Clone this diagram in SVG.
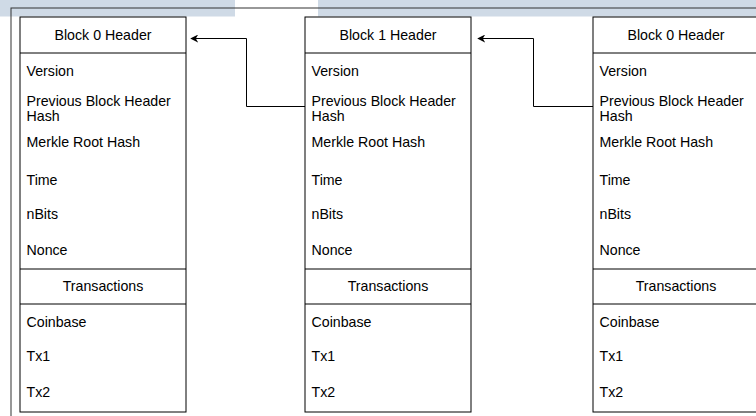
<svg xmlns="http://www.w3.org/2000/svg" width="756" height="416" viewBox="0 0 756 416">
<style>
.box{fill:#fff;stroke:#000;stroke-width:1}
.t{font-family:"Liberation Sans",Arial,sans-serif;font-size:14.2px;fill:#000}
.c{text-anchor:middle}
.edge{fill:none;stroke:#000;stroke-width:1}
</style>
<defs>
<marker id="ah" viewBox="0 0 10 10" refX="9" refY="5" markerWidth="8" markerHeight="8" markerUnits="userSpaceOnUse" orient="auto">
<path d="M0,0 L10,5 L0,10 L3,5 Z" fill="#000"/>
</marker>
<g id="blk">
<rect class="box" x="0" y="0" width="166" height="395"/>
<line x1="0" y1="36" x2="166" y2="36" stroke="#000"/>
<line x1="0" y1="252" x2="166" y2="252" stroke="#000"/>
<line x1="0" y1="287" x2="166" y2="287" stroke="#000"/>
<text class="t" x="6.5" y="59">Version</text>
<text class="t" x="6.5" y="89">Previous Block Header</text>
<text class="t" x="6.5" y="104">Hash</text>
<text class="t" x="6.5" y="130">Merkle Root Hash</text>
<text class="t" x="6.5" y="168">Time</text>
<text class="t" x="6.5" y="202">nBits</text>
<text class="t" x="6.5" y="238">Nonce</text>
<text class="t c" x="83" y="274">Transactions</text>
<text class="t" x="6.5" y="310">Coinbase</text>
<text class="t" x="6.5" y="344">Tx1</text>
<text class="t" x="6.5" y="380">Tx2</text>
</g>
</defs>
<rect x="0" y="0" width="235" height="16.5" fill="#cfdae6"/>
<rect x="318" y="0" width="438" height="16.5" fill="#cfdae6"/>
<rect x="11" y="8" width="760" height="420" fill="none" stroke="#333" stroke-width="1"/>
<g id="block0">
<use href="#blk" x="20" y="17"/>
<text class="t c" x="103" y="40">Block 0 Header</text>
</g>
<g id="block1">
<use href="#blk" x="305" y="17"/>
<text class="t c" x="388" y="40">Block 1 Header</text>
</g>
<g id="block2">
<use href="#blk" x="593" y="17"/>
<text class="t c" x="676" y="40">Block 0 Header</text>
</g>
<g id="connectors">
<path class="edge" d="M305,106.5 H246.5 V38.5 H191" marker-end="url(#ah)"/>
<path class="edge" d="M593,106.5 H533.5 V38.5 H478" marker-end="url(#ah)"/>
</g>
</svg>
